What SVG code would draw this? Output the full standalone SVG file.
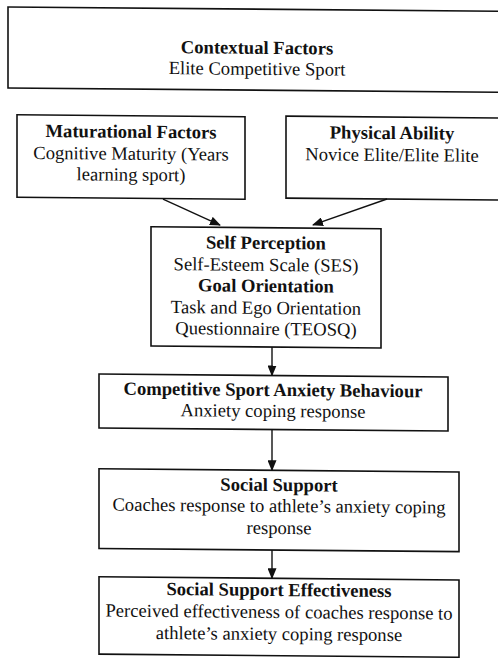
<svg xmlns="http://www.w3.org/2000/svg" width="498" height="658" viewBox="0 0 498 658">
  <style>
    .box { fill: none; stroke: #111; stroke-width: 1.6; }
    text { font-family: "Liberation Serif", "Times New Roman", serif; font-size: 18.6px; fill: #111; text-anchor: middle; }
    .h { font-weight: bold; }
    .conn { stroke: #111; stroke-width: 1.4; fill: none; marker-end: url(#arr); }
  </style>
  <defs>
    <marker id="arr" markerUnits="userSpaceOnUse" markerWidth="11" markerHeight="9" refX="10" refY="4.5" orient="auto">
      <path d="M0,0 L11,4.5 L0,9 Z" fill="#111"/>
    </marker>
  </defs>
  <rect width="498" height="658" fill="#fff"/>
  <!-- slight skew so horizontal rules fall a little to the right -->
  <g transform="translate(0,-2.37) skewY(0.5)">
    <g id="contextual">
      <rect class="box" x="8" y="9.3" width="492" height="81"/>
      <text x="257" y="54" class="h">Contextual Factors</text>
      <text x="257" y="75">Elite Competitive Sport</text>
    </g>
    <g id="maturational">
      <rect class="box" x="17" y="117" width="228" height="82.5"/>
      <text x="131" y="139" class="h">Maturational Factors</text>
      <text x="131" y="161">Cognitive Maturity (Years</text>
      <text x="131" y="182">learning sport)</text>
    </g>
    <g id="physical">
      <rect class="box" x="286" y="116" width="220" height="82"/>
      <text x="392" y="138" class="h">Physical Ability</text>
      <text x="392" y="160">Novice Elite/Elite Elite</text>
    </g>
    <g id="self">
      <rect class="box" x="151" y="227.8" width="230" height="119.2"/>
      <text x="266" y="249" class="h">Self Perception</text>
      <text x="266" y="271">Self-Esteem Scale (SES)</text>
      <text x="266" y="292" class="h">Goal Orientation</text>
      <text x="266" y="314">Task and Ego Orientation</text>
      <text x="266" y="335">Questionnaire (TEOSQ)</text>
    </g>
    <g id="anxiety">
      <rect class="box" x="99" y="375.5" width="349" height="54"/>
      <text x="273" y="396" class="h">Competitive Sport Anxiety Behaviour</text>
      <text x="273" y="417">Anxiety coping response</text>
    </g>
    <g id="support">
      <rect class="box" x="99" y="470.3" width="360" height="79.7"/>
      <text x="279" y="491" class="h">Social Support</text>
      <text x="279" y="512">Coaches response to athlete’s anxiety coping</text>
      <text x="279" y="534">response</text>
    </g>
    <g id="effectiveness">
      <rect class="box" x="99" y="578.3" width="360" height="77.3"/>
      <text x="279" y="596" class="h">Social Support Effectiveness</text>
      <text x="279" y="618">Perceived effectiveness of coaches response to</text>
      <text x="279" y="640">athlete’s anxiety coping response</text>
    </g>
    <g id="connectors">
      <line class="conn" x1="163" y1="200" x2="220" y2="225.5"/>
      <line class="conn" x1="387" y1="198" x2="313" y2="224.6"/>
      <line class="conn" x1="272" y1="347" x2="272" y2="375.5"/>
      <line class="conn" x1="272" y1="429.5" x2="272" y2="470.3"/>
      <line class="conn" x1="272" y1="550" x2="272" y2="578.3"/>
    </g>
  </g>
</svg>
